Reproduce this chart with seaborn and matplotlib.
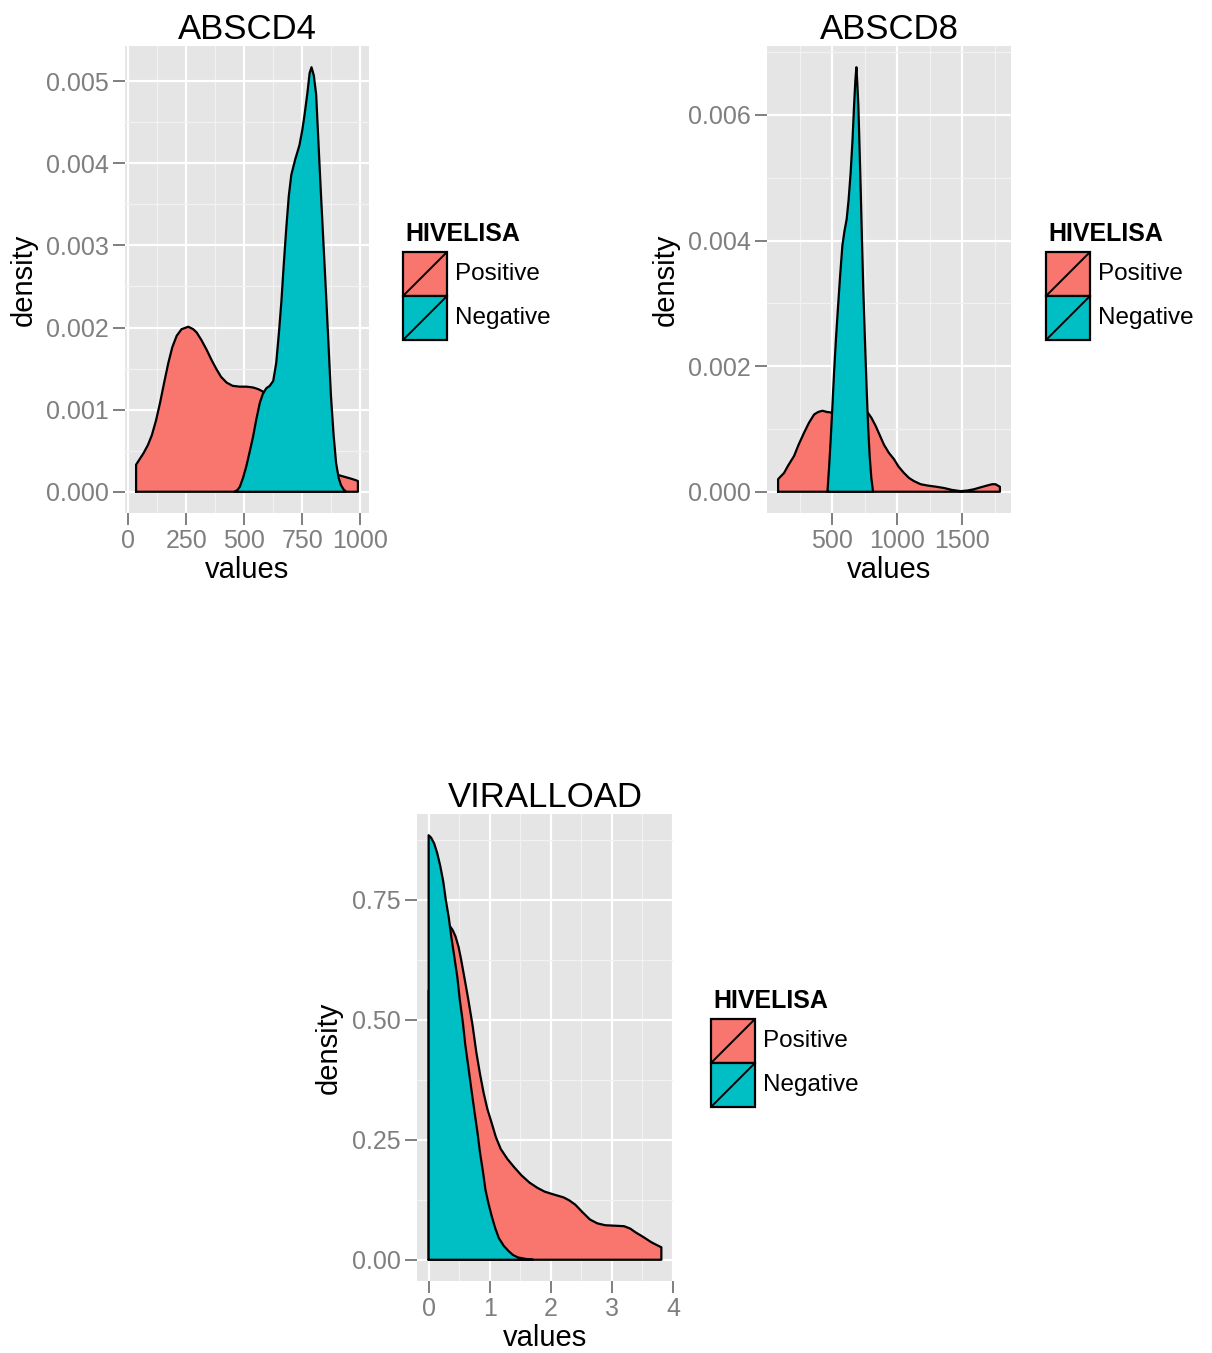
import numpy as np
import pandas as pd
import matplotlib
matplotlib.use("Agg")
import matplotlib.pyplot as plt
import seaborn as sns
from matplotlib.patches import Rectangle
from matplotlib.lines import Line2D
from matplotlib.ticker import FixedLocator, FormatStrFormatter

# ---------------- data ----------------
groups = ["Positive", "Negative"]
group_colors = ["#F8766D", "#00BFC4"]
legend_title = "HIVELISA"
panel_titles = ["ABSCD4", "ABSCD8", "VIRALLOAD"]

# ABSCD4 (density values in units of 1e-3)
abscd4_pos_x = [34, 50, 66, 85, 102, 120, 137, 155, 173, 190, 209, 230, 259, 280, 295, 315,
                338, 360, 381, 400, 424, 450, 481, 510, 538, 560, 581, 610, 650, 700, 750,
                800, 850, 890, 910, 935, 960, 982, 990]
abscd4_pos_y = [0.33, 0.40, 0.47, 0.57, 0.69, 0.87, 1.08, 1.33, 1.57, 1.76, 1.90, 1.98, 2.01,
                1.98, 1.94, 1.85, 1.73, 1.60, 1.49, 1.40, 1.33, 1.29, 1.28, 1.28, 1.27, 1.25,
                1.22, 1.10, 0.90, 0.65, 0.45, 0.32, 0.24, 0.21, 0.20, 0.18, 0.16, 0.14, 0.13]
abscd4_neg_x = [459, 470, 481, 495, 509, 523, 538, 552, 567, 580, 595, 610, 625, 638, 650, 660,
                670, 681, 692, 703, 720, 738, 750, 760, 772, 782, 790, 800, 810, 820, 831, 842,
                853, 864, 874, 885, 896, 907, 917, 928, 939]
abscd4_neg_y = [0.0, 0.02, 0.06, 0.17, 0.31, 0.48, 0.67, 0.88, 1.08, 1.19, 1.26, 1.29, 1.35,
                1.57, 1.95, 2.31, 2.75, 3.20, 3.60, 3.86, 4.05, 4.22, 4.40, 4.59, 4.85, 5.10,
                5.17, 5.07, 4.84, 4.25, 3.61, 3.00, 2.39, 1.75, 1.16, 0.70, 0.35, 0.17, 0.08,
                0.03, 0.0]

# ABSCD8 (density values in units of 1e-3)
abscd8_pos_x = [82, 100, 128, 160, 205, 240, 282, 320, 359, 390, 423, 460, 500, 550, 600, 650,
                700, 740, 769, 800, 833, 865, 897, 935, 974, 1010, 1051, 1090, 1128, 1180,
                1231, 1300, 1359, 1420, 1487, 1540, 1590, 1640, 1692, 1730, 1756, 1790]
abscd8_pos_y = [0.20, 0.24, 0.30, 0.42, 0.57, 0.75, 0.94, 1.10, 1.23, 1.27, 1.29, 1.27, 1.26,
                1.27, 1.28, 1.28, 1.28, 1.28, 1.27, 1.18, 1.05, 0.90, 0.75, 0.62, 0.52, 0.40,
                0.30, 0.22, 0.17, 0.12, 0.10, 0.08, 0.06, 0.03, 0.01, 0.02, 0.04, 0.07, 0.10,
                0.12, 0.12, 0.08]
abscd8_neg_x = [462, 475, 487, 500, 513, 528, 544, 560, 577, 593, 610, 625, 641, 655, 667, 677,
                685, 692, 700, 709, 718, 728, 738, 751, 764, 775, 787, 800, 813]
abscd8_neg_y = [0.0, 0.40, 0.83, 1.35, 1.90, 2.45, 2.96, 3.45, 3.92, 4.15, 4.34, 4.65, 5.09,
                5.60, 6.15, 6.55, 6.76, 6.50, 6.15, 5.50, 4.82, 4.00, 3.23, 2.40, 1.63, 1.05,
                0.57, 0.22, 0.0]

# VIRALLOAD
viral_pos_x = [0.0, 0.10, 0.20, 0.30, 0.34, 0.39, 0.44, 0.49, 0.53, 0.59, 0.65, 0.72, 0.78,
               0.84, 0.90, 0.96, 1.03, 1.10, 1.18, 1.29, 1.40, 1.52, 1.65, 1.78, 1.90, 2.05,
               2.21, 2.30, 2.40, 2.52, 2.64, 2.76, 2.89, 3.05, 3.20, 3.30, 3.39, 3.52, 3.64,
               3.73, 3.81]
viral_pos_y = [0.56, 0.62, 0.665, 0.69, 0.697, 0.688, 0.674, 0.652, 0.627, 0.585, 0.542, 0.488,
               0.433, 0.388, 0.348, 0.315, 0.286, 0.256, 0.231, 0.210, 0.193, 0.176, 0.161,
               0.150, 0.142, 0.136, 0.130, 0.124, 0.115, 0.099, 0.084, 0.076, 0.072, 0.071,
               0.070, 0.065, 0.057, 0.047, 0.037, 0.031, 0.026]
viral_neg_x = [0.0, 0.04, 0.09, 0.14, 0.19, 0.24, 0.28, 0.33, 0.37, 0.42, 0.47, 0.51, 0.56,
               0.60, 0.65, 0.70, 0.75, 0.80, 0.84, 0.89, 0.93, 0.98, 1.03, 1.09, 1.15, 1.23,
               1.31, 1.38, 1.46, 1.58, 1.71]
viral_neg_y = [0.885, 0.88, 0.868, 0.848, 0.821, 0.788, 0.751, 0.713, 0.674, 0.632, 0.589,
               0.542, 0.495, 0.448, 0.402, 0.355, 0.309, 0.265, 0.224, 0.183, 0.146, 0.117,
               0.092, 0.066, 0.045, 0.029, 0.018, 0.010, 0.005, 0.002, 0.0]

abscd4_x_ticks = [0, 250, 500, 750, 1000]
abscd4_y_ticks = [0.000, 0.001, 0.002, 0.003, 0.004, 0.005]
abscd8_x_ticks = [500, 1000, 1500]
abscd8_y_ticks = [0.000, 0.002, 0.004, 0.006]
viral_x_ticks = [0, 1, 2, 3, 4]
viral_y_ticks = [0.00, 0.25, 0.50, 0.75]

# ---------------- style ----------------
W, H = 1212, 1353
sns.set_theme(style="darkgrid", rc={
    "axes.facecolor": "#E5E5E5",
    "grid.color": "white",
    "axes.edgecolor": "none",
})
plt.rcParams["font.family"] = ["Liberation Sans", "DejaVu Sans"]

fig = plt.figure(figsize=(W / 100, H / 100), dpi=100)
fig.patch.set_facecolor("white")


def px_axes(l, t, r, b):
    return fig.add_axes([l / W, 1 - b / H, (r - l) / W, (b - t) / H])


def fx(x):
    return x / W


def fy(y):
    return 1 - y / H


def draw_density(ax, x, y, color, z):
    xs = [x[0]] + list(x) + [x[-1], x[0]]
    ys = [0.0] + list(y) + [0.0, 0.0]
    ax.fill(xs, ys, facecolor=color, edgecolor="none", zorder=z)
    df = pd.DataFrame({"values": xs, "density": ys})
    sns.lineplot(data=df, x="values", y="density", sort=False, estimator=None,
                 color="black", lw=1.6, ax=ax, zorder=z + 0.5)


def style_panel(ax, title, xlim, ylim, xt, yt, yfmt, x_minor, y_minor):
    ax.set_xlim(*xlim)
    ax.set_ylim(*ylim)
    ax.xaxis.set_major_locator(FixedLocator(xt))
    ax.yaxis.set_major_locator(FixedLocator(yt))
    ax.xaxis.set_minor_locator(FixedLocator(x_minor))
    ax.yaxis.set_minor_locator(FixedLocator(y_minor))
    ax.xaxis.set_major_formatter(FormatStrFormatter("%d"))
    ax.yaxis.set_major_formatter(FormatStrFormatter(yfmt))
    ax.grid(which="major", color="white", lw=1.6)
    ax.grid(which="minor", color="#F2F2F2", lw=0.9)
    ax.set_axisbelow(True)
    for s in ax.spines.values():
        s.set_visible(False)
    ax.tick_params(which="major", direction="out", length=8.6, width=1.4,
                   color="#7F7F7F", labelcolor="#7F7F7F", labelsize=18, pad=3,
                   bottom=True, left=True)
    ax.tick_params(which="minor", length=0)
    ax.set_title(title, fontsize=25, pad=5, color="black")
    ax.set_xlabel("values", fontsize=21, color="black")
    ax.set_ylabel("density", fontsize=21, color="black")


def expand(lo, hi, f=0.05):
    r = hi - lo
    return (lo - f * r, hi + f * r)


def draw_legend(x0, key_top, key_w=44, key_h=44):
    # title
    fig.text(fx(x0 + 2), fy(key_top - 11), legend_title, fontsize=18, fontweight="bold",
             ha="left", va="baseline", color="black")
    for i, (g, c) in enumerate(zip(groups, group_colors)):
        top = key_top + i * key_h
        rect = Rectangle((fx(x0), fy(top + key_h)), key_w / W, key_h / H,
                         transform=fig.transFigure, facecolor=c, edgecolor="black", lw=1.6)
        fig.add_artist(rect)
        ln = Line2D([fx(x0), fx(x0 + key_w)], [fy(top + key_h), fy(top)],
                    transform=fig.transFigure, color="black", lw=1.4)
        fig.add_artist(ln)
        fig.text(fx(x0 + key_w + 8), fy(top + key_h / 2), g, fontsize=17.5,
                 ha="left", va="center", color="black")


# ---------------- panel 1: ABSCD4 ----------------
ax1 = px_axes(125, 46, 369, 513)
y4p = [v * 1e-3 for v in abscd4_pos_y]
y4n = [v * 1e-3 for v in abscd4_neg_y]
draw_density(ax1, abscd4_pos_x, y4p, group_colors[0], 2)
draw_density(ax1, abscd4_neg_x, y4n, group_colors[1], 4)
xl = expand(min(abscd4_pos_x + abscd4_neg_x), max(abscd4_pos_x + abscd4_neg_x))
yl = expand(0, max(y4p + y4n))
style_panel(ax1, panel_titles[0], xl, yl, abscd4_x_ticks, abscd4_y_ticks, "%.3f",
            [125, 375, 625, 875], [0.0005, 0.0015, 0.0025, 0.0035, 0.0045])
draw_legend(403, 252)

# ---------------- panel 2: ABSCD8 ----------------
ax2 = px_axes(767, 46, 1011, 513)
y8p = [v * 1e-3 for v in abscd8_pos_y]
y8n = [v * 1e-3 for v in abscd8_neg_y]
draw_density(ax2, abscd8_pos_x, y8p, group_colors[0], 2)
draw_density(ax2, abscd8_neg_x, y8n, group_colors[1], 4)
xl = expand(min(abscd8_pos_x + abscd8_neg_x), max(abscd8_pos_x + abscd8_neg_x))
yl = expand(0, max(y8p + y8n))
style_panel(ax2, panel_titles[1], xl, yl, abscd8_x_ticks, abscd8_y_ticks, "%.3f",
            [250, 750, 1250, 1750], [0.001, 0.003, 0.005, 0.007])
draw_legend(1046, 252)

# ---------------- panel 3: VIRALLOAD ----------------
ax3 = px_axes(417, 814, 673, 1281)
draw_density(ax3, viral_pos_x, viral_pos_y, group_colors[0], 2)
draw_density(ax3, viral_neg_x, viral_neg_y, group_colors[1], 4)
xl = expand(min(viral_pos_x + viral_neg_x), max(viral_pos_x + viral_neg_x))
yl = expand(0, max(viral_pos_y + viral_neg_y))
style_panel(ax3, panel_titles[2], xl, yl, viral_x_ticks, viral_y_ticks, "%.2f",
            [0.5, 1.5, 2.5, 3.5], [0.125, 0.375, 0.625, 0.875])
draw_legend(711, 1019)

# axis label placement (axes fractions)
for ax, (l, t, r, b), ylab_x in [(ax1, (125, 46, 369, 513), 38),
                                 (ax2, (767, 46, 1011, 513), 680),
                                 (ax3, (417, 814, 673, 1281), 343)]:
    w, h = r - l, b - t
    ax.xaxis.set_label_coords(0.5, -(556 - 513) / h)
    ax.yaxis.set_label_coords((ylab_x - l) / w, 0.5)

fig.savefig("out.png", dpi=100, facecolor="white")
